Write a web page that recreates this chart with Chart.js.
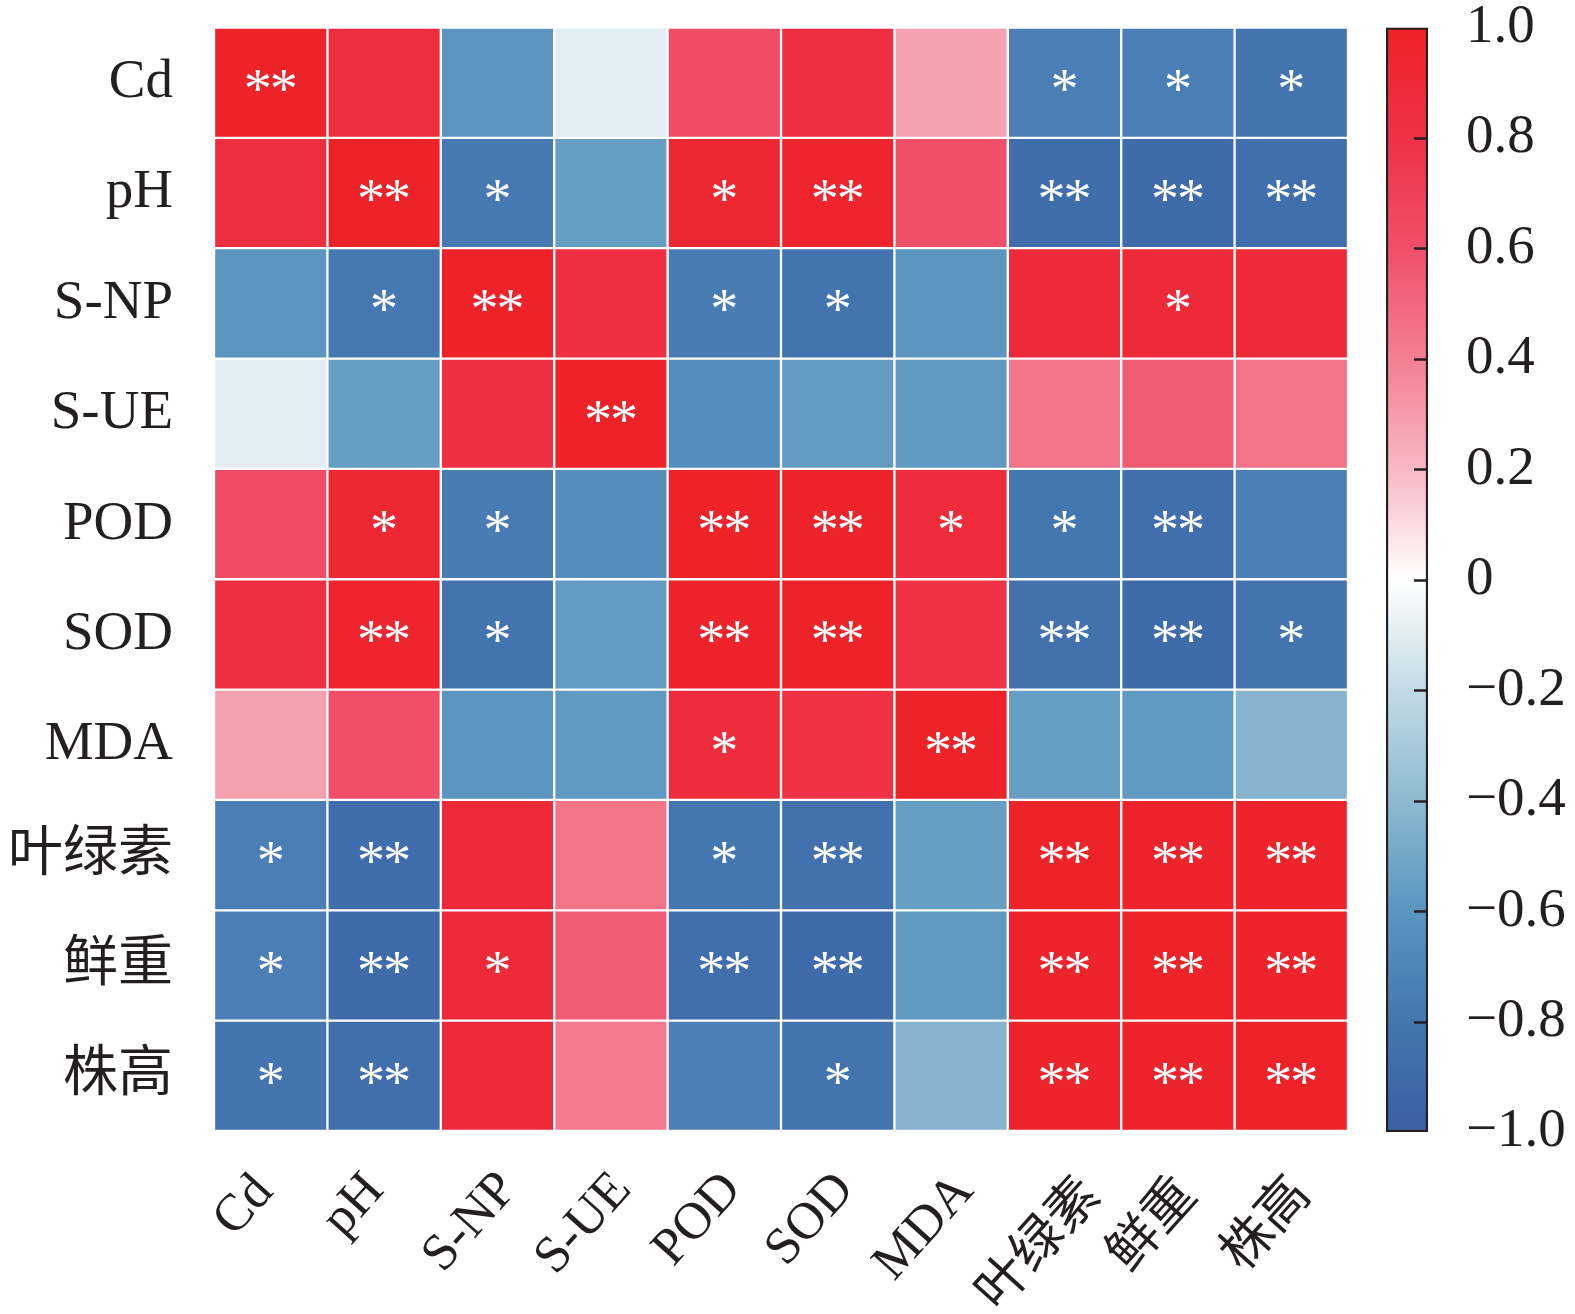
<!DOCTYPE html>
<html><head><meta charset="utf-8">
<script src="https://cdn.jsdelivr.net/npm/chart.js@4"></script>
<style>
html,body{margin:0;padding:0;background:#fff;width:1575px;height:1314px;overflow:hidden}
#main{position:absolute;left:0;top:0}
#bar{position:absolute;left:1360px;top:0}
</style></head><body>
<canvas id="main" width="1575" height="1314"></canvas>
<canvas id="bar" width="215" height="1314"></canvas>
<script>
// ---- data ----
const VARS = ['Cd','pH','S-NP','S-UE','POD','SOD','MDA','叶绿素','鲜重','株高'];
const R_CD   = [ 1.00, 0.85,-0.60,-0.10, 0.62, 0.85, 0.28,-0.75,-0.75,-0.82];
const R_PH   = [ 0.85, 1.00,-0.78,-0.55, 0.93, 0.96, 0.60,-0.88,-0.90,-0.86];
const R_SNP  = [-0.60,-0.78, 1.00, 0.82,-0.76,-0.82,-0.60, 0.90, 0.90, 0.90];
const R_SUE  = [-0.10,-0.55, 0.82, 1.00,-0.65,-0.57,-0.58, 0.45, 0.55, 0.45];
const R_POD  = [ 0.62, 0.93,-0.76,-0.65, 1.00, 0.97, 0.87,-0.80,-0.87,-0.74];
const R_SOD  = [ 0.85, 0.96,-0.82,-0.57, 0.97, 1.00, 0.80,-0.84,-0.90,-0.82];
const R_MDA  = [ 0.28, 0.60,-0.60,-0.58, 0.87, 0.80, 1.00,-0.55,-0.58,-0.43];
const R_CHL  = [-0.75,-0.88, 0.90, 0.45,-0.80,-0.84,-0.55, 1.00, 0.98, 0.98];
const R_FW   = [-0.75,-0.90, 0.90, 0.55,-0.87,-0.90,-0.58, 0.98, 1.00, 0.97];
const R_PH2  = [-0.82,-0.86, 0.90, 0.42,-0.74,-0.82,-0.43, 0.98, 0.97, 1.00];

const S_CD   = ['**','','','','','','','*','*','*'];
const S_PH   = ['','**','*','','*','**','','**','**','**'];
const S_SNP  = ['','*','**','','*','*','','','*',''];
const S_SUE  = ['','','','**','','','','','',''];
const S_POD  = ['','*','*','','**','**','*','*','**',''];
const S_SOD  = ['','**','*','','**','**','','**','**','*'];
const S_MDA  = ['','','','','*','','**','','',''];
const S_CHL  = ['*','**','','','*','**','','**','**','**'];
const S_FW   = ['*','**','*','','**','**','','**','**','**'];
const S_PH2  = ['*','**','','','','*','','**','**','**'];

const CBAR_TICKS = [1.0,0.8,0.6,0.4,0.2,0,-0.2,-0.4,-0.6,-0.8,-1.0];

const ROWS = [R_CD,R_PH,R_SNP,R_SUE,R_POD,R_SOD,R_MDA,R_CHL,R_FW,R_PH2];
const SIGS = [S_CD,S_PH,S_SNP,S_SUE,S_POD,S_SOD,S_MDA,S_CHL,S_FW,S_PH2];

// ---- colour map (style) ----
const CMAP = [
  [-1.0,[58,95,165]],[-0.8,[68,118,176]],[-0.6,[91,149,192]],[-0.4,[141,186,209]],
  [-0.2,[195,218,229]],[0,[255,255,255]],[0.2,[248,184,195]],[0.4,[244,127,148]],
  [0.6,[240,79,105]],[0.8,[239,50,70]],[1.0,[238,34,41]]
];
function colorFor(v){
  for(let i=0;i<CMAP.length-1;i++){
    const [a,ca]=CMAP[i],[b,cb]=CMAP[i+1];
    if(v>=a && v<=b){
      const t=(v-a)/(b-a);
      const c=ca.map((x,k)=>Math.round(x+(cb[k]-x)*t));
      return `rgb(${c[0]},${c[1]},${c[2]})`;
    }
  }
  return v<0?'rgb(58,95,165)':'rgb(238,34,41)';
}
const FONT = '"Liberation Serif","Times New Roman","Noto Sans CJK SC",serif';
const INK = '#231f20';

const starPlugin = {
  id:'stars',
  afterDatasetsDraw(chart){
    const ctx=chart.ctx;
    ctx.save();
    ctx.fillStyle='#fff';
    ctx.font='56px '+FONT;
    ctx.textAlign='center';
    ctx.textBaseline='alphabetic';
    const m=ctx.measureText('*');
    const asc=m.actualBoundingBoxAscent, desc=m.actualBoundingBoxDescent;
    chart.data.datasets.forEach((ds,r)=>{
      const meta=chart.getDatasetMeta(r);
      meta.data.forEach((el,c)=>{
        const s=SIGS[r][c];
        if(!s) return;
        const p=el.getCenterPoint();
        const y=p.y-2+(asc-desc)/2;
        if(s.length===2){
          ctx.fillText('*',p.x-13,y);
          ctx.fillText('*',p.x+13,y);
        } else ctx.fillText(s,p.x,y);
      });
    });
    ctx.restore();
  }
};

// rotated category labels, placed at the x scale's tick positions
const xLabelPlugin = {
  id:'xlabels',
  afterDraw(chart){
    const ctx=chart.ctx, xs=chart.scales.x;
    const th=48*Math.PI/180, c=Math.cos(th), s=Math.sin(th);
    ctx.save();
    ctx.fillStyle=INK;
    ctx.font='52px '+FONT;
    ctx.textAlign='left';
    ctx.textBaseline='alphabetic';
    VARS.forEach((lab,i)=>{
      const m=ctx.measureText(lab);
      const x0=-m.actualBoundingBoxLeft, x1=m.actualBoundingBoxRight;
      const y0=-m.actualBoundingBoxAscent, y1=m.actualBoundingBoxDescent;
      // rotate corners by -th
      const pts=[[x0,y0],[x1,y0],[x0,y1],[x1,y1]].map(([x,y])=>[x*c+y*s,-x*s+y*c]);
      const minX=Math.min(...pts.map(p=>p[0])), maxX=Math.max(...pts.map(p=>p[0]));
      const minY=Math.min(...pts.map(p=>p[1]));
      const cx=xs.getPixelForTick(i)-29;
      const top=xs.top+37;
      const ox=cx-(minX+maxX)/2, oy=top-minY;
      ctx.save();
      ctx.translate(ox,oy);
      ctx.rotate(-th);
      ctx.fillText(lab,0,0);
      ctx.restore();
    });
    ctx.restore();
  }
};

new Chart(document.getElementById('main'),{
  type:'bar',
  data:{
    labels:VARS,
    datasets:ROWS.map((row,r)=>({
      label:VARS[r],
      data:row.map(()=>1),
      backgroundColor:row.map(colorFor),
      borderColor:'#ffffff',
      borderWidth:1.5,
      borderSkipped:false,
      barPercentage:1,
      categoryPercentage:1
    }))
  },
  options:{
    responsive:false,
    animation:false,
    devicePixelRatio:1,
    layout:{padding:{top:27,right:227,left:0,bottom:0}},
    plugins:{legend:{display:false},tooltip:{enabled:false}},
    scales:{
      x:{
        stacked:true,
        grid:{display:false},
        border:{display:false},
        ticks:{display:false},
        afterFit(s){s.height=183;}
      },
      y:{
        stacked:true,
        min:0,max:10,reverse:true,
        grid:{display:true,drawOnChartArea:false,drawTicks:true,tickLength:41,color:'rgba(0,0,0,0)'},
        border:{display:false},
        afterBuildTicks(s){s.ticks=VARS.map((_,i)=>({value:i+0.5}));},
        ticks:{color:INK,font:{family:FONT,size:55,lineHeight:1},padding:0,autoSkip:false,
          callback:(v)=>VARS[Math.round(v-0.5)]},
        afterFit(s){s.width=214;}
      }
    }
  },
  plugins:[starPlugin,xLabelPlugin]
});

const tickPlugin={
  id:'cbticks',
  afterDatasetsDraw(chart){
    const ctx=chart.ctx, y=chart.scales.y, a=chart.chartArea;
    ctx.save();
    ctx.strokeStyle=INK; ctx.lineWidth=2.5;
    CBAR_TICKS.forEach(v=>{
      if(Math.abs(v)===1) return;
      const py=Math.round(y.getPixelForValue(v))+0.5;
      ctx.beginPath(); ctx.moveTo(a.right-14,py); ctx.lineTo(a.right,py); ctx.stroke();
    });
    ctx.restore();
  }
};

new Chart(document.getElementById('bar'),{
  type:'bar',
  data:{
    labels:['r'],
    datasets:[{
      data:[[-1,1]],
      backgroundColor(ctx){
        const a=ctx.chart.chartArea; if(!a) return null;
        const g=ctx.chart.ctx.createLinearGradient(0,a.bottom,0,a.top);
        CMAP.forEach(([v,c])=>g.addColorStop((v+1)/2,`rgb(${c[0]},${c[1]},${c[2]})`));
        return g;
      },
      borderColor:INK,
      borderWidth:2.5,
      borderSkipped:false,
      barPercentage:1,
      categoryPercentage:1
    }]
  },
  options:{
    responsive:false,
    animation:false,
    devicePixelRatio:1,
    layout:{padding:{top:27,bottom:182,left:26,right:0}},
    plugins:{legend:{display:false},tooltip:{enabled:false}},
    scales:{
      x:{display:false},
      y:{
        position:'right',
        min:-1,max:1,
        grid:{display:true,drawOnChartArea:false,drawTicks:true,tickLength:38,color:'rgba(0,0,0,0)'},
        border:{display:false},
        afterBuildTicks(s){s.ticks=CBAR_TICKS.map(v=>({value:v}));},
        ticks:{color:INK,font:{family:FONT,size:55,lineHeight:1},padding:0,autoSkip:false,
          callback:(v)=> v===0?'0':(v<0?'\u2212':'')+Math.abs(v).toFixed(1)},
        afterFit(s){s.width=147;}
      }
    }
  },
  plugins:[tickPlugin]
});
</script>
</body></html>
